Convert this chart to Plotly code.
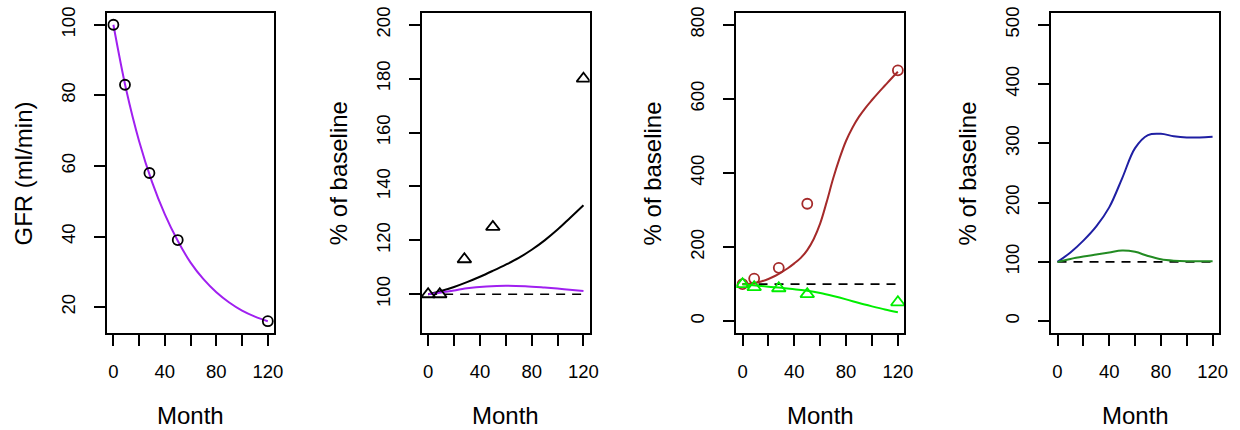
import plotly.graph_objects as go

# ---------------- data ----------------
obs_months = [0, 9, 28, 50, 120]

# Panel 1: GFR
gfr_obs = [100, 83, 58, 39, 16]
curve1_months = [0, 10, 20, 30, 40, 50, 60, 70, 80, 90, 100, 110, 120]
gfr_fit = [100, 81.5, 67, 55.5, 46.3, 38.8, 32.6, 27.9, 24.2, 21.3, 19, 17.3, 16]

# Panel 2
p2_obs = [100, 100, 113, 125, 180]
p2_black_months = [0, 10, 20, 30, 40, 50, 60, 70, 80, 90, 100, 110, 120]
p2_black = [100, 101.2, 102.7, 104.5, 106.5, 108.7, 111, 113.5, 116.5, 120, 124, 128.5, 133]
p2_purple_months = [0, 15, 30, 45, 60, 75, 90, 105, 120]
p2_purple = [100, 101, 102.2, 102.9, 103.2, 103.0, 102.5, 101.9, 101.2]

# Panel 3
p3_red_obs = [100, 115, 144, 317, 677]
p3_green_obs = [100, 92, 89, 73, 51]
p3_red_months = [0, 5, 10, 15, 20, 25, 30, 35, 40, 45, 50, 55, 60, 65, 70, 75, 80,
                 85, 90, 95, 100, 105, 110, 115, 120]
p3_red = [100, 101, 104, 108, 114, 122, 132, 143, 156, 171, 192, 222, 264, 322, 385,
          440, 487, 523, 552, 576, 597, 617, 636, 655, 673]
p3_green_months = [0, 10, 20, 30, 40, 50, 60, 70, 80, 90, 100, 110, 120]
p3_green = [100, 96.5, 93, 90, 86, 82, 76, 68, 59, 49, 40, 31.5, 24]

# Panel 4
p4_months = [0, 10, 20, 30, 40, 50, 60, 70, 80, 90, 100, 110, 120]
p4_blue = [100, 116, 136, 160, 192, 241, 292, 314, 316, 312, 310, 310, 311]
p4_green_months = [0, 10, 20, 30, 40, 50, 60, 70, 80, 90, 100, 110, 120]
p4_green = [100, 105, 109, 112.5, 116, 119.2, 117, 110, 104.5, 102, 101, 101, 101]

baseline_months = [0, 120]
baseline = [100, 100]

x_ticks = [0, 20, 40, 60, 80, 100, 120]
x_ticktext = ["0", "", "40", "", "80", "", "120"]
y_ticks = [
    [20, 40, 60, 80, 100],
    [100, 120, 140, 160, 180, 200],
    [0, 200, 400, 600, 800],
    [0, 100, 200, 300, 400, 500],
]
y_ranges = [[12.64, 103.36], [85.6, 204.4], [-32, 832], [-20, 520]]
y_titles = ["GFR (ml/min)", "% of baseline", "% of baseline", "% of baseline"]

PURPLE = "#A020F0"
BROWN = "#A52A2A"
GREEN = "#00EE00"
BLUE = "#1F1FA3"
DKGREEN = "#228B22"

W, H = 1240, 430
box_left = [108, 425, 741.7, 1059]
box_right = [276, 594, 910.7, 1227.7]
box_top, box_bottom = 7, 331.7

fig = go.Figure()

def add_line(x, y, color, k, dash=None, width=2):
    fig.add_trace(go.Scatter(
        x=x, y=y, mode="lines",
        line=dict(color=color, width=width, shape="spline", smoothing=1.0, dash=dash),
        xaxis=f"x{k}" if k > 1 else "x", yaxis=f"y{k}" if k > 1 else "y",
        showlegend=False, hoverinfo="skip"))

def add_pts(x, y, color, k, symbol, size):
    fig.add_trace(go.Scatter(
        x=x, y=y, mode="markers",
        marker=dict(symbol=symbol, size=size, color=color, line=dict(color=color, width=1.8)),
        xaxis=f"x{k}" if k > 1 else "x", yaxis=f"y{k}" if k > 1 else "y",
        showlegend=False))

DASH = "9px,7px"

# Panel 1
add_line(curve1_months, gfr_fit, PURPLE, 1)
add_pts(obs_months, gfr_obs, "black", 1, "circle-open", 10)

# Panel 2
add_line(baseline_months, baseline, "black", 2, dash=DASH, width=1.7)
add_line(p2_black_months, p2_black, "black", 2)
add_line(p2_purple_months, p2_purple, PURPLE, 2)
add_pts(obs_months, p2_obs, "black", 2, "triangle-up-open", 12)

# Panel 3
add_line(baseline_months, baseline, "black", 3, dash=DASH, width=1.7)
add_line(p3_red_months, p3_red, BROWN, 3)
add_line(p3_green_months, p3_green, GREEN, 3)
add_pts(obs_months, p3_red_obs, BROWN, 3, "circle-open", 10)
add_pts(obs_months, p3_green_obs, GREEN, 3, "triangle-up-open", 12)

# Panel 4
add_line(baseline_months, baseline, "black", 4, dash=DASH, width=1.7)
add_line(p4_months, p4_blue, BLUE, 4)
add_line(p4_green_months, p4_green, DKGREEN, 4)

FONT = "Liberation Sans, Arial, Helvetica, sans-serif"
layout = dict(
    width=W, height=H,
    margin=dict(l=0, r=0, t=0, b=0),
    paper_bgcolor="white", plot_bgcolor="white",
    font=dict(family=FONT, color="black"),
    showlegend=False,
)
ydom = [(H - box_bottom) / H, (H - box_top) / H]
annotations = []
for i in range(4):
    k = i + 1
    xs = "xaxis" if k == 1 else f"xaxis{k}"
    ys = "yaxis" if k == 1 else f"yaxis{k}"
    layout[xs] = dict(
        domain=[box_left[i] / W, box_right[i] / W],
        range=[-4.8, 124.8], anchor="y" if k == 1 else f"y{k}",
        tickvals=x_ticks, ticktext=x_ticktext, ticks="outside", ticklen=11,
        tickwidth=1.5, tickcolor="black", showline=True, mirror=True,
        linecolor="black", linewidth=2, showgrid=False, zeroline=False,
        tickfont=dict(size=18.5, family=FONT), ticklabelstandoff=10,
    )
    layout[ys] = dict(
        domain=ydom, range=y_ranges[i], anchor="x" if k == 1 else f"x{k}",
        tickvals=y_ticks[i], ticks="outside", ticklen=11, tickwidth=1.5,
        tickcolor="black", showline=True, mirror=True, linecolor="black",
        linewidth=2, showgrid=False, zeroline=False, tickangle=-90,
        tickfont=dict(size=18.5, family=FONT), ticklabelstandoff=12,
    )
    cx = (box_left[i] + box_right[i]) / 2
    annotations.append(dict(
        text="Month", xref="paper", yref="paper", x=cx / W, y=(H - 415) / H,
        xanchor="center", yanchor="middle", showarrow=False,
        font=dict(size=24, family=FONT, color="black")))
    annotations.append(dict(
        text=y_titles[i], xref="paper", yref="paper", x=(box_left[i] - 84) / W,
        y=(H - 170) / H, xanchor="center", yanchor="middle", showarrow=False,
        textangle=-90, font=dict(size=24, family=FONT, color="black")))
layout["annotations"] = annotations
fig.update_layout(**layout)

fig.write_html(
    "out.html",
    config={"displayModeBar": False},
    post_script="document.body.style.margin='0px';document.body.style.overflow='hidden';",
)
